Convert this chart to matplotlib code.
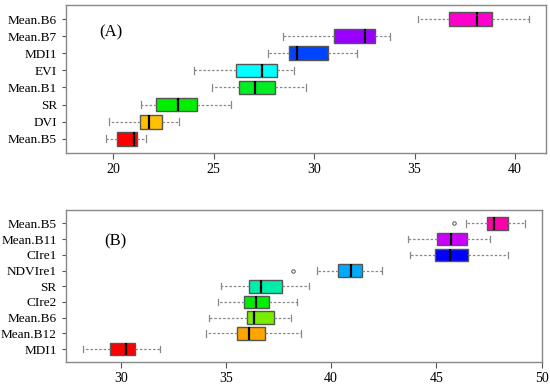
import matplotlib
matplotlib.use("Agg")
import matplotlib.pyplot as plt

plt.rcParams['font.family'] = ['Liberation Serif', 'DejaVu Serif']

# panel A (bottom to top)
labels_a = ['Mean.B5', 'DVI', 'SR', 'Mean.B1', 'EVI', 'MDI1', 'Mean.B7', 'Mean.B6']
wlo_a = [19.64, 19.80, 21.39, 24.93, 24.02, 27.69, 28.47, 35.16]
q1_a = [20.17, 21.34, 22.14, 26.24, 26.13, 28.75, 30.98, 36.73]
med_a = [21.03, 21.76, 23.21, 27.07, 27.41, 29.16, 32.53, 38.11]
q3_a = [21.18, 22.44, 24.17, 28.05, 28.14, 30.69, 33.03, 38.84]
whi_a = [21.64, 23.29, 25.88, 29.60, 29.01, 32.14, 33.76, 40.70]
colors_a = ['#FF0000', '#FFC000', '#00EE00', '#00EE22', '#00FFFF', '#0044FF', '#9900FF', '#FF00CC']

# panel B (bottom to top)
labels_b = ['MDI1', 'Mean.B12', 'Mean.B6', 'CIre2', 'SR', 'NDVIre1', 'CIre1', 'Mean.B11', 'Mean.B5']
wlo_b = [28.21, 34.05, 34.21, 34.64, 34.78, 39.31, 43.74, 43.63, 46.42]
q1_b = [29.51, 35.52, 35.99, 35.84, 36.11, 40.31, 44.93, 45.04, 47.42]
med_b = [30.25, 36.08, 36.35, 36.44, 36.66, 40.94, 45.64, 45.68, 47.72]
q3_b = [30.69, 36.86, 37.28, 37.06, 37.65, 41.45, 46.48, 46.45, 48.39]
whi_b = [31.88, 38.57, 38.10, 38.39, 38.96, 42.40, 48.41, 47.56, 49.21]
fliers_b = [[], [], [], [], [], [38.20], [], [], [45.85]]
colors_b = ['#FF0000', '#FFA500', '#77EE00', '#00EE00', '#00EEAA', '#00AAFF', '#0000FF', '#CC00FF', '#FF00AA']


def draw(ax, labels, wlo, q1, med, q3, whi, colors, fliers=None):
    stats = []
    for i in range(len(labels)):
        stats.append(dict(whislo=wlo[i], q1=q1[i], med=med[i], q3=q3[i],
                          whishi=whi[i], fliers=fliers[i] if fliers else []))
    bp = ax.bxp(stats, positions=range(1, len(labels) + 1), vert=False,
                widths=0.8, patch_artist=True, showfliers=True,
                boxprops=dict(edgecolor='#555555', linewidth=1.0),
                medianprops=dict(color='black', linewidth=1.6),
                whiskerprops=dict(color='#888888', linestyle=(0, (2, 1.5)), linewidth=0.9),
                capprops=dict(color='#888888', linewidth=0.9),
                flierprops=dict(marker='o', markersize=2.5, markerfacecolor='none',
                                markeredgecolor='#555555', markeredgewidth=0.7))
    for patch, c in zip(bp['boxes'], colors):
        patch.set_facecolor(c)
    for cap in bp['caps']:
        # short vertical caps like R's staplewex
        xd, yd = cap.get_data()
        m = (yd[0] + yd[1]) / 2
        cap.set_ydata([m - 0.2, m + 0.2])
    ax.set_yticks(range(1, len(labels) + 1))
    ax.set_yticklabels(labels, fontsize=9.5)
    ax.set_ylim(0.18, len(labels) + 0.82)
    ax.tick_params(axis='x', labelsize=10, length=4, color='#555555')
    ax.tick_params(axis='y', length=3, color='#555555')
    for s in ax.spines.values():
        s.set_color('#888888')
        s.set_linewidth(1.0)


fig = plt.figure(figsize=(5.5, 3.86), dpi=100)
ax1 = fig.add_axes([0.12, 0.604, 0.872, 0.383])
ax2 = fig.add_axes([0.1195, 0.0622, 0.8665, 0.3925])

draw(ax1, labels_a, wlo_a, q1_a, med_a, q3_a, whi_a, colors_a)
ax1.set_xlim(17.64, 41.53)
ax1.set_xticks([20, 25, 30, 35, 40])
ax1.text(19.9, 7.2, '(A)', fontsize=12, va='center', ha='center')

draw(ax2, labels_b, wlo_b, q1_b, med_b, q3_b, whi_b, colors_b, fliers_b)
ax2.set_xlim(27.39, 50.03)
ax2.set_xticks([30, 35, 40, 45, 50])
ax2.text(29.73, 7.83, '(B)', fontsize=12, va='center', ha='center')

fig.savefig('out.png', dpi=100)
